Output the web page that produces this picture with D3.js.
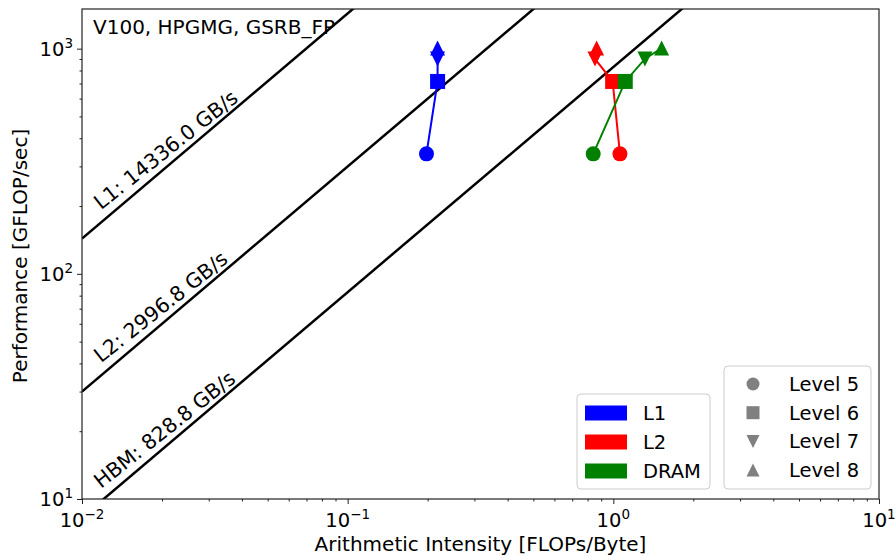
<!DOCTYPE html>
<html>
<head>
<meta charset="utf-8">
<script src="https://cdn.jsdelivr.net/npm/d3@7"></script>
<style>
  body { margin: 0; background: #fff; }
  text { font-family: "DejaVu Sans", sans-serif; fill: #000; }
</style>
</head>
<body>
<svg id="chart"></svg>
<script>
// Chart data
const title = "V100, HPGMG, GSRB_FP";
const roofNames = ["L1", "L2", "HBM"];
const roofBW = [14336.0, 2996.8, 828.8];          // GB/s
const levels = ["Level 5", "Level 6", "Level 7", "Level 8"];
const perf = [341, 715, 900, 1007];               // GFLOP/sec per level
const memNames = ["L1", "L2", "DRAM"];
const memColors = ["#0000ff", "#ff0000", "#008000"];
const aiL1 = [0.198, 0.218, 0.218, 0.218];
const aiL2 = [1.059, 0.994, 0.853, 0.865];
const aiDRAM = [0.840, 1.109, 1.315, 1.52];
const xMajor = [0.01, 0.1, 1, 10];
const xMajorExp = ["-2", "-1", "0", "1"];
const yMajor = [10, 100, 1000];
const yMajorExp = ["1", "2", "3"];

const W = 896, H = 556;
const margin = { top: 9, right: 17, bottom: 57, left: 82 };

const svg = d3.select("#chart")
  .attr("width", W)
  .attr("height", H);

const x = d3.scaleLog().domain([0.01, 10]).range([margin.left, W - margin.right]);
const y = d3.scaleLog().domain([10, 1500]).range([H - margin.bottom, margin.top]);

svg.append("defs").append("clipPath").attr("id", "plotclip")
  .append("rect")
  .attr("x", x.range()[0]).attr("y", y.range()[1])
  .attr("width", x.range()[1] - x.range()[0])
  .attr("height", y.range()[0] - y.range()[1]);

// minor tick values
const xMinor = [];
[0.01, 0.1, 1].forEach(d => { for (let k = 2; k <= 9; k++) xMinor.push(d * k); });
const yMinor = [];
[10, 100, 1000].forEach(d => { for (let k = 2; k <= 9; k++) if (d * k <= 1500) yMinor.push(d * k); });

// Axes
function styleAxis(g) {
  g.select(".domain").remove();
  g.selectAll("line").attr("stroke", "#222").attr("stroke-width", 1);
}

svg.append("g")
  .attr("transform", "translate(0," + y.range()[0] + ")")
  .call(d3.axisBottom(x).tickValues(xMinor).tickSize(2.5).tickFormat(""))
  .call(styleAxis);
const xAx = svg.append("g")
  .attr("transform", "translate(0," + y.range()[0] + ")")
  .call(d3.axisBottom(x).tickValues(xMajor).tickSize(5).tickFormat(""))
  .call(styleAxis);

svg.append("g")
  .attr("transform", "translate(" + x.range()[0] + ",0)")
  .call(d3.axisLeft(y).tickValues(yMinor).tickSize(2.5).tickFormat(""))
  .call(styleAxis);
svg.append("g")
  .attr("transform", "translate(" + x.range()[0] + ",0)")
  .call(d3.axisLeft(y).tickValues(yMajor).tickSize(5).tickFormat(""))
  .call(styleAxis);

// tick labels with superscripts
xMajor.forEach((d, i) => {
  const t = svg.append("text")
    .attr("x", x(d))
    .attr("y", 527)
    .attr("text-anchor", "middle")
    .style("font-size", "19.5px");
  t.append("tspan").text("10");
  t.append("tspan").attr("dy", -8).style("font-size", "13.5px").text(xMajorExp[i].replace("-", "\u2212"));
});
yMajor.forEach((d, i) => {
  const t = svg.append("text")
    .attr("x", 73)
    .attr("y", y(d) + 7)
    .attr("text-anchor", "end")
    .style("font-size", "19.5px");
  t.append("tspan").text("10");
  t.append("tspan").attr("dy", -8).style("font-size", "13.5px").text(yMajorExp[i]);
});

// Axis labels
svg.append("text")
  .attr("x", (x.range()[0] + x.range()[1]) / 2)
  .attr("y", 551)
  .attr("text-anchor", "middle")
  .style("font-size", "20px")
  .text("Arithmetic Intensity [FLOPs/Byte]");

svg.append("text")
  .attr("transform", "translate(27," + 256 + ") rotate(-90)")
  .attr("text-anchor", "middle")
  .style("font-size", "20px")
  .text("Performance [GFLOP/sec]");

// Title inside plot
svg.append("text")
  .attr("x", 93)
  .attr("y", 34)
  .style("font-size", "20px")
  .text(title);

// Rooflines
const plot = svg.append("g").attr("clip-path", "url(#plotclip)");
roofBW.forEach((bw, i) => {
  plot.append("line")
    .attr("x1", x(0.01)).attr("y1", y(bw * 0.01))
    .attr("x2", x(10)).attr("y2", y(bw * 10))
    .attr("stroke", "#000")
    .attr("stroke-width", 2.5);
  const ai0 = 0.0117;
  svg.append("text")
    .attr("transform", "translate(" + (x(ai0) + 1) + "," + (y(bw * ai0) - 13) + ") rotate(-38.5)")
    .style("font-size", "20.5px")
    .text(roofNames[i] + ": " + bw.toFixed(1) + " GB/s");
});

// Marker shapes for levels
const shapes = [
  d3.symbol().type(d3.symbolCircle).size(Math.PI * 7.5 * 7.5),
  d3.symbol().type(d3.symbolSquare).size(14 * 14),
  null, null
];
function tri(s, up) {
  const h = s / 2;
  return up
    ? "M0," + (-h) + "L" + h + "," + h + "L" + (-h) + "," + h + "Z"
    : "M0," + h + "L" + h + "," + (-h) + "L" + (-h) + "," + (-h) + "Z";
}
function markerPath(i, s) {
  if (i === 0) return d3.symbol().type(d3.symbolCircle).size(Math.PI * (s / 2) * (s / 2))();
  if (i === 1) return d3.symbol().type(d3.symbolSquare).size(s * s)();
  return tri(s, i === 3);
}

// Data series
const series = [aiL1, aiL2, aiDRAM];
const line = d3.line().x(d => x(d[0])).y(d => y(d[1]));
series.forEach((ai, j) => {
  const pts = ai.map((a, k) => [a, perf[k]]);
  plot.append("path")
    .attr("d", line(pts))
    .attr("fill", "none")
    .attr("stroke", memColors[j])
    .attr("stroke-width", 2);
  pts.forEach((p, k) => {
    plot.append("path")
      .attr("transform", "translate(" + x(p[0]) + "," + y(p[1]) + ")")
      .attr("d", markerPath(k, 15))
      .attr("fill", memColors[j]);
  });
});

// Frame
svg.append("rect")
  .attr("x", x.range()[0]).attr("y", y.range()[1])
  .attr("width", x.range()[1] - x.range()[0])
  .attr("height", y.range()[0] - y.range()[1])
  .attr("fill", "none")
  .attr("stroke", "#222")
  .attr("stroke-width", 1.2);

// Legend 1: memory levels
const leg1 = svg.append("g");
leg1.append("rect")
  .attr("x", 577).attr("y", 394).attr("width", 133).attr("height", 95)
  .attr("rx", 4).attr("fill", "#fff").attr("fill-opacity", 0.8)
  .attr("stroke", "#ccc");
memNames.forEach((n, i) => {
  const cy = 413 + i * 29;
  leg1.append("rect")
    .attr("x", 585).attr("y", cy - 7.5).attr("width", 42).attr("height", 15)
    .attr("fill", memColors[i]);
  leg1.append("text")
    .attr("x", 643).attr("y", cy + 7)
    .style("font-size", "19.5px")
    .text(n);
});

// Legend 2: grid levels
const leg2 = svg.append("g");
leg2.append("rect")
  .attr("x", 724).attr("y", 366).attr("width", 147).attr("height", 123)
  .attr("rx", 4).attr("fill", "#fff").attr("fill-opacity", 0.8)
  .attr("stroke", "#ccc");
levels.forEach((n, i) => {
  const cy = 384 + i * 28.7;
  leg2.append("path")
    .attr("transform", "translate(753," + cy + ")")
    .attr("d", markerPath(i, 13))
    .attr("fill", "#808080");
  leg2.append("text")
    .attr("x", 789).attr("y", cy + 7)
    .style("font-size", "19.5px")
    .text(n);
});
</script>
</body>
</html>
